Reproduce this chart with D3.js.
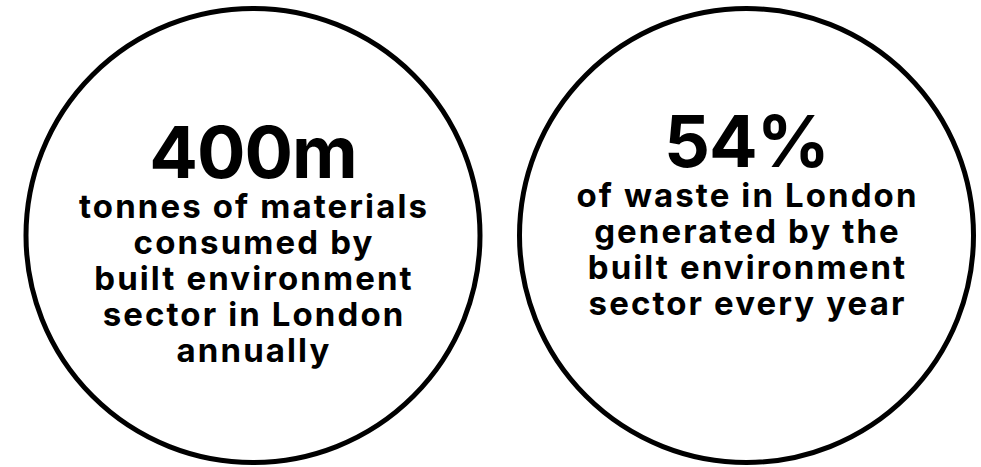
<!DOCTYPE html>
<html>
<head>
<meta charset="utf-8">
<script src="https://cdn.jsdelivr.net/npm/d3@7"></script>
<style>
  body { margin: 0; background: #fff; }
  text { font-family: Inter, "Noto Sans", sans-serif; font-weight: 700; fill: #000; }
</style>
</head>
<body>
<svg></svg>
<script>
let figures = ["400m", "54%"];
let captions = [
    ["tonnes of materials", "consumed by", "built environment", "sector in London", "annually"],
    ["of waste in London", "generated by the", "built environment", "sector every year"]
];

let width = 981;
let height = 467;
let radius = 227;

let svg = d3.select("svg")
    .attr("width", width)
    .attr("height", height);

let xScale = d3.scalePoint()
    .domain(figures)
    .range([253, 746.5]);

let cy = 235.5;

let groups = svg.selectAll("g.stat")
    .data(figures)
    .enter()
    .append("g")
    .attr("class", "stat")
    .attr("transform", d => `translate(${xScale(d)}, ${cy})`);

groups.append("circle")
    .attr("r", radius)
    .attr("fill", "#fff")
    .attr("stroke", "#000")
    .attr("stroke-width", 5);

// big number sits above the caption block
let lineHeight = 36;
groups.each(function (d, i) {
    let g = d3.select(this);
    let lines = captions[i];
    let firstBase = i === 0 ? -17.5 : -28.5;
    g.append("text")
        .attr("text-anchor", "middle")
        .attr("y", firstBase - 40)
        .style("font-size", "72px")
        .style("letter-spacing", "-1px")
        .text(d);
    g.selectAll("text.cap")
        .data(lines)
        .enter()
        .append("text")
        .attr("class", "cap")
        .attr("text-anchor", "middle")
        .attr("x", 1)
        .attr("y", (l, j) => firstBase + j * lineHeight)
        .style("font-size", "33px")
        .style("letter-spacing", "2.1px")
        .text(l => l);
});
</script>
</body>
</html>
